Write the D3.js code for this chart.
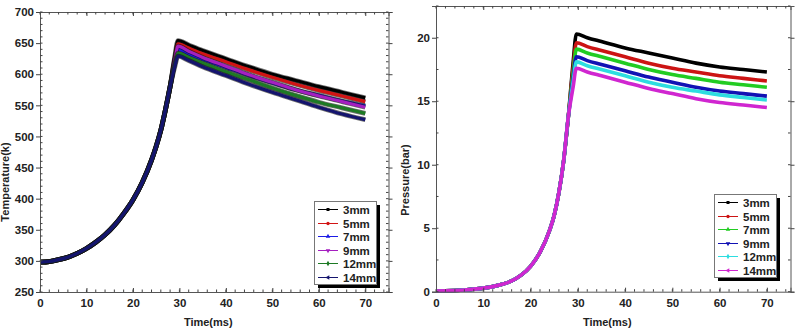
<!DOCTYPE html>
<html>
<head>
<meta charset="utf-8">
<script src="https://cdn.jsdelivr.net/npm/d3@7"></script>
<style>
    body { margin: 0; background: #fff; }
    text { font-family: Arial, "Liberation Sans", sans-serif; font-weight: bold; fill: #222; }
</style>
</head>
<body>
<div id="chart"></div>
<script>
// time samples shared by every series (ms)
const times = [0, 2, 4, 6, 8, 10, 12, 14, 16, 18, 20, 22, 24, 25, 26, 27, 28, 29, 29.7, 32, 35, 40, 45, 50, 55, 60, 65, 70];

const seriesNames = ['3mm', '5mm', '7mm', '9mm', '12mm', '14mm'];

// temperature (k)
const temp3mm  = [298, 299, 302, 306, 312, 320, 330, 342, 357, 376, 398, 426, 462, 484, 510, 543, 580, 628, 654, 647, 638, 625, 612, 600, 590, 580, 571, 562];
const temp5mm  = [298, 299, 302, 306, 312, 320, 330, 342, 357, 376, 398, 426, 462, 484, 510, 543, 580, 625, 649, 642, 633, 620, 607, 595, 584, 574, 565, 556];
const temp7mm  = [298, 299, 302, 306, 312, 320, 330, 342, 357, 376, 398, 426, 462, 484, 510, 543, 580, 620, 640, 633, 624, 611, 598, 586, 575, 566, 557, 549];
const temp9mm  = [298, 299, 302, 306, 312, 320, 330, 342, 357, 376, 398, 426, 462, 484, 510, 543, 580, 622, 645, 637, 627, 613, 599, 587, 575, 565, 556, 547];
const temp12mm = [298, 299, 302, 306, 312, 320, 330, 342, 357, 376, 398, 426, 462, 484, 510, 543, 580, 616, 634, 627, 618, 604, 591, 578, 566, 555, 546, 537];
const temp14mm = [298, 299, 302, 306, 312, 320, 330, 342, 357, 376, 398, 426, 462, 484, 510, 543, 580, 612, 629, 622, 612, 598, 584, 571, 559, 547, 536, 527];

// pressure (bar)
const pres3mm  = [0.05, 0.07, 0.1, 0.14, 0.2, 0.28, 0.4, 0.58, 0.85, 1.3, 2.0, 3.1, 4.8, 6.0, 7.8, 10.3, 13.8, 18.0, 20.3, 20.0, 19.7, 19.2, 18.8, 18.4, 18.0, 17.7, 17.5, 17.3];
const pres5mm  = [0.05, 0.07, 0.1, 0.14, 0.2, 0.28, 0.4, 0.58, 0.85, 1.3, 2.0, 3.1, 4.8, 6.0, 7.8, 10.3, 13.8, 17.6, 19.6, 19.3, 19.0, 18.5, 18.0, 17.6, 17.3, 17.0, 16.8, 16.6];
const pres7mm  = [0.05, 0.07, 0.1, 0.14, 0.2, 0.28, 0.4, 0.58, 0.85, 1.3, 2.0, 3.1, 4.8, 6.0, 7.8, 10.3, 13.8, 17.2, 19.1, 18.8, 18.5, 18.0, 17.5, 17.1, 16.8, 16.5, 16.3, 16.1];
const pres9mm  = [0.05, 0.07, 0.1, 0.14, 0.2, 0.28, 0.4, 0.58, 0.85, 1.3, 2.0, 3.1, 4.8, 6.0, 7.8, 10.3, 13.8, 16.8, 18.5, 18.2, 17.9, 17.4, 16.9, 16.5, 16.1, 15.8, 15.6, 15.4];
const pres12mm = [0.05, 0.07, 0.1, 0.14, 0.2, 0.28, 0.4, 0.58, 0.85, 1.3, 2.0, 3.1, 4.8, 6.0, 7.8, 10.3, 13.8, 16.5, 18.1, 17.8, 17.5, 17.0, 16.5, 16.1, 15.8, 15.5, 15.3, 15.1];
const pres14mm = [0.05, 0.07, 0.1, 0.14, 0.2, 0.28, 0.4, 0.58, 0.85, 1.3, 2.0, 3.1, 4.8, 6.0, 7.8, 10.3, 13.8, 16.1, 17.6, 17.3, 17.0, 16.5, 16.0, 15.6, 15.2, 14.9, 14.7, 14.5];

const xTicks = [0, 10, 20, 30, 40, 50, 60, 70];
const tempTicks = [250, 300, 350, 400, 450, 500, 550, 600, 650, 700];
const presTicks = [0, 5, 10, 15, 20];

const tempColors = ['#000000', '#d21414', '#1c1ce6', '#a51fc0', '#1d7a24', '#14146e'];
const presColors = ['#000000', '#cc1414', '#22cc22', '#1212b4', '#2ddde0', '#d026d0'];
const markerTypes = [d3.symbolSquare, d3.symbolCircle, d3.symbolTriangle, d3.symbolTriangle, d3.symbolDiamond, d3.symbolTriangle];
const markerRotate = [0, 0, 0, 180, 0, 270];

const svg = d3.select('#chart').append('svg')
    .attr('width', 801)
    .attr('height', 334);

function drawPanel(cfg) {
    const x = d3.scaleLinear().domain([0, 75]).range([cfg.left, cfg.right]);
    const y = d3.scaleLinear().domain(cfg.yDomain).range([cfg.bottom, cfg.top]);
    const g = svg.append('g');

    // lines
    const line = d3.line()
        .x((d, i) => x(times[i]))
        .y(d => y(d))
        .curve(d3.curveMonotoneX);

    cfg.series.forEach((s, i) => {
        if (cfg.outline) {
            g.append('path')
                .attr('d', line(s))
                .attr('fill', 'none')
                .attr('stroke', '#111')
                .attr('stroke-opacity', 0.6)
                .attr('stroke-width', 4.8);
        }
        g.append('path')
            .attr('d', line(s))
            .attr('fill', 'none')
            .attr('stroke', cfg.colors[i])
            .attr('stroke-width', cfg.lineWidth)
            .attr('stroke-linejoin', 'round');
    });

    // frame with mirrored axes
    const xMinor = d3.range(0, 76, 2);
    const yMinor = d3.range(cfg.yDomain[0], cfg.yDomain[1] + 0.001, cfg.yMinorStep);

    const bottomAxis = d3.axisBottom(x).tickValues(xTicks).tickSize(-4).tickPadding(7);
    const topAxis = d3.axisTop(x).tickValues(xTicks).tickSize(-4).tickFormat('');
    const leftAxis = d3.axisLeft(y).tickValues(cfg.yTicks).tickSize(4).tickPadding(2);
    const rightAxis = d3.axisRight(y).tickValues(cfg.yTicks).tickSize(4).tickFormat('');

    const axes = [
        [bottomAxis, `translate(0,${cfg.bottom})`],
        [topAxis, `translate(0,${cfg.top})`],
        [leftAxis, `translate(${cfg.left},0)`],
        [rightAxis, `translate(${cfg.right},0)`]
    ];
    axes.forEach(([ax, tr]) => {
        const a = g.append('g').attr('transform', tr).call(ax);
        a.selectAll('.domain').attr('stroke', '#555');
        a.selectAll('.tick line').attr('stroke', '#444');
        a.selectAll('.tick text')
            .style('font-size', '11.5px')
            .style('font-weight', 'bold')
            .attr('fill', '#222');
    });

    // minor ticks (inside)
    const minor = g.append('g').attr('stroke', '#444');
    minor.selectAll('line.xb')
        .data(xMinor)
        .join('line')
        .attr('x1', d => x(d)).attr('x2', d => x(d))
        .attr('y1', cfg.bottom).attr('y2', cfg.bottom - 2.5);
    minor.selectAll('line.xt')
        .data(xMinor)
        .join('line')
        .attr('x1', d => x(d)).attr('x2', d => x(d))
        .attr('y1', cfg.top).attr('y2', cfg.top + 2.5);
    minor.selectAll('line.yl')
        .data(yMinor)
        .join('line')
        .attr('x1', cfg.left).attr('x2', cfg.left + 2.5)
        .attr('y1', d => y(d)).attr('y2', d => y(d));
    minor.selectAll('line.yr')
        .data(yMinor)
        .join('line')
        .attr('x1', cfg.right).attr('x2', cfg.right - 2.5)
        .attr('y1', d => y(d)).attr('y2', d => y(d));

    // axis titles
    g.append('text')
        .attr('x', (x(0) + x(75)) / 2 - 6)
        .attr('y', 326)
        .attr('text-anchor', 'middle')
        .style('font-size', '11px')
        .text('Time(ms)');

    g.append('text')
        .attr('transform', `translate(${cfg.yTitleX},${cfg.yTitleY}) rotate(-90)`)
        .attr('text-anchor', 'middle')
        .style('font-size', '11px')
        .text(cfg.yTitle);

    // legend
    const lg = g.append('g').attr('transform', `translate(${cfg.legend[0]},${cfg.legend[1]})`);
    const lw = 62, lh = 83;
    lg.append('rect')
        .attr('x', 4).attr('y', 4)
        .attr('width', lw).attr('height', lh)
        .attr('fill', '#000');
    lg.append('rect')
        .attr('x', 0.5).attr('y', 0.5)
        .attr('width', lw).attr('height', lh)
        .attr('fill', '#fff')
        .attr('stroke', '#777');

    seriesNames.forEach((name, i) => {
        const ry = Math.round(8 + i * 13.6) + 0.5;
        lg.append('line')
            .attr('x1', 4).attr('x2', 24)
            .attr('y1', ry).attr('y2', ry)
            .attr('stroke', cfg.colors[i])
            .attr('stroke-width', 1);
        lg.append('path')
            .attr('d', d3.symbol().type(markerTypes[i]).size(9)())
            .attr('transform', `translate(14,${ry}) rotate(${markerRotate[i]})`)
            .attr('fill', cfg.colors[i]);
        lg.append('text')
            .attr('x', 29)
            .attr('y', ry + 4)
            .style('font-size', '11.5px')
            .text(name);
    });
}

drawPanel({
    left: 40, right: 388.5, top: 12, bottom: 292,
    yDomain: [250, 700],
    yTicks: tempTicks,
    yMinorStep: 10,
    series: [temp3mm, temp5mm, temp7mm, temp9mm, temp12mm, temp14mm],
    colors: tempColors,
    outline: true,
    lineWidth: 3.2,
    yTitle: 'Temperature(k)',
    yTitleX: 9, yTitleY: 182,
    legend: [314, 201]
});

drawPanel({
    left: 436, right: 790.5, top: 6, bottom: 291.7,
    yDomain: [0, 22.5],
    yTicks: presTicks,
    yMinorStep: 2.5,
    series: [pres3mm, pres5mm, pres7mm, pres9mm, pres12mm, pres14mm],
    colors: presColors,
    outline: false,
    lineWidth: 3.6,
    yTitle: 'Pressure(bar)',
    yTitleX: 409, yTitleY: 180,
    legend: [714, 194]
});
</script>
</body>
</html>
